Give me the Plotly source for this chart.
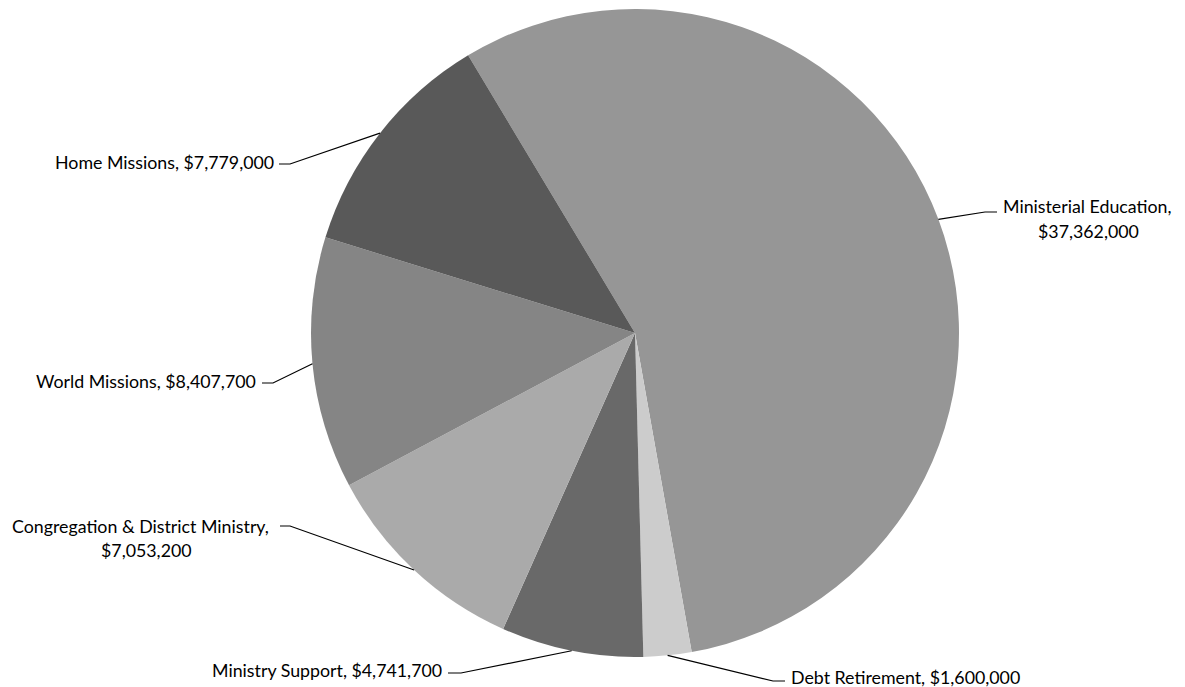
import math
import plotly.graph_objects as go

# ---- data ----
categories = ["Ministerial Education", "Debt Retirement", "Ministry Support",
              "Congregation & District Ministry", "World Missions", "Home Missions"]
values = [37362000, 1600000, 4741700, 7053200, 8407700, 7779000]
value_labels = ["$37,362,000", "$1,600,000", "$4,741,700",
                "$7,053,200", "$8,407,700", "$7,779,000"]

# ---- style / layout ----
colors = ["#969696", "#cccccc", "#696969", "#aaaaaa", "#858585", "#595959"]
W, H = 1185, 687
OFF = 8            # page body margin offset
PW, PH = W - OFF, H - OFF
CX, CY, R = 635, 333, 324
ROTATION = -31.0
FONT = dict(family="Lato, 'Open Sans', sans-serif", size=17.8, color="#000000")

# label layout per slice: knee point, horizontal end, list of (text, x, y, xanchor)
label_layout = {
    "Ministerial Education": dict(knee=(985, 212), end=(997, 212),
                                  lines=[("{cat},", 1087.5, 206, "center"), ("{val}", 1088, 231, "center")]),
    "Debt Retirement": dict(knee=(773, 681), end=(785, 681),
                            lines=[("{cat}, {val}", 789, 677, "left")]),
    "Ministry Support": dict(knee=(461, 673), end=(448, 673),
                             lines=[("{cat}, {val}", 444, 669.5, "right")]),
    "Congregation & District Ministry": dict(knee=(290, 526), end=(280, 526),
                                             lines=[("{cat},", 140, 526, "center"), ("{val}", 146, 550, "center")]),
    "World Missions": dict(knee=(273, 383), end=(262, 383),
                           lines=[("{cat}, {val}", 258, 380.5, "right")]),
    "Home Missions": dict(knee=(290, 164), end=(279, 164),
                          lines=[("{cat}, {val}", 276, 162, "right")]),
}


def px(x):
    return (x - OFF) / PW


def py(y):
    return 1 - (y - OFF) / PH


fig = go.Figure()
fig.add_trace(go.Pie(
    labels=categories, values=values, sort=False, direction="clockwise",
    rotation=ROTATION, textinfo="none", hoverinfo="label+value",
    marker=dict(colors=colors, line=dict(width=0)),
    domain=dict(x=[px(CX - R), px(CX + R)], y=[py(CY + R), py(CY - R)]),
    showlegend=False,
))

total = sum(values)
cum = 0.0
shapes = []
annotations = []
for cat, v, vl in zip(categories, values, value_labels):
    mid = math.radians(ROTATION + (cum + v / 2) / total * 360)
    cum += v
    ex = CX + R * math.sin(mid)
    ey = CY - R * math.cos(mid)
    lay = label_layout[cat]
    kx, ky = lay["knee"]
    hx, hy = lay["end"]
    path = f"M {px(ex)},{py(ey)} L {px(kx)},{py(ky)} L {px(hx)},{py(hy)}"
    shapes.append(dict(type="path", path=path, xref="paper", yref="paper",
                       line=dict(color="#000000", width=1.2)))
    for text, tx, ty, xa in lay["lines"]:
        annotations.append(dict(text=text.format(cat=cat, val=vl), x=px(tx), y=py(ty),
                                xref="paper", yref="paper", xanchor=xa, yanchor="middle",
                                showarrow=False, font=FONT))

fig.update_layout(
    width=PW, height=PH, margin=dict(l=0, r=0, t=0, b=0),
    paper_bgcolor="white", plot_bgcolor="white",
    shapes=shapes, annotations=annotations,
)
fig.write_html("out.html")
